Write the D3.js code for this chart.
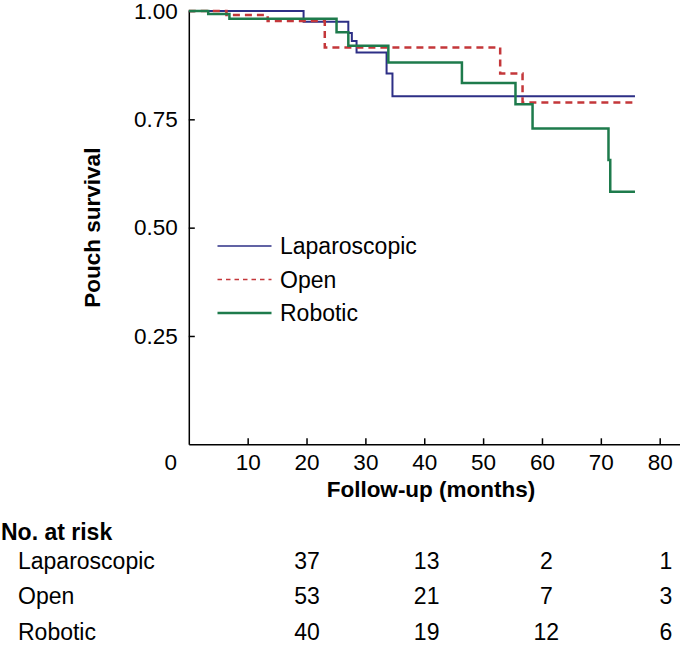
<!DOCTYPE html>
<html>
<head>
<meta charset="utf-8">
<script src="https://cdn.jsdelivr.net/npm/d3@7"></script>
<style>
  body { margin: 0; background: #fff; }
  svg { display: block; font-family: "Liberation Sans", Arial, Helvetica, sans-serif; }
</style>
</head>
<body>
<div id="chart"></div>
<script>
// Kaplan-Meier steps (months, survival)
const lapTime  = [0, 19.5, 27.1, 27.7, 28.5, 33.6, 34.6, 75.8];
const lapSurv  = [1, 0.975, 0.949, 0.931, 0.904, 0.856, 0.803, 0.803];
const openTime = [0, 6.4, 13.4, 23.1, 52.9, 56.7, 75.8];
const openSurv = [1, 0.991, 0.977, 0.916, 0.856, 0.789, 0.789];
const robTime  = [0, 3.3, 6.9, 25.1, 27.1, 33.9, 46.4, 55.5, 58.4, 71.3, 71.6, 75.8];
const robSurv  = [1, 0.993, 0.982, 0.951, 0.920, 0.881, 0.834, 0.785, 0.729, 0.656, 0.583, 0.583];

const groups = ['Laparoscopic', 'Open', 'Robotic'];
const xTicks = [10, 20, 30, 40, 50, 60, 70, 80];
const yTicks = [0.25, 0.5, 0.75, 1];

// numbers at risk
const riskTimes = [20, 40, 60, 80];
const lapRisk  = [37, 13, 2, 1];
const openRisk = [53, 21, 7, 3];
const robRisk  = [40, 19, 12, 6];

const width = 680;
const height = 650;

const svg = d3.select('#chart')
  .append('svg')
  .attr('width', width)
  .attr('height', height);

const x = d3.scaleLinear().domain([0, 83.5]).range([188.8, 680.3]);
const y = d3.scaleLinear().domain([0, 1]).range([444.3, 11]);

const series = [
  { name: groups[0], t: lapTime,  s: lapSurv,  color: '#2d2f86', w: 2,   dash: null,  legW: 1.6, legDash: null },
  { name: groups[1], t: openTime, s: openSurv, color: '#c4373a', w: 2.5, dash: '7,5', legW: 1.6, legDash: '4.5,4' },
  { name: groups[2], t: robTime,  s: robSurv,  color: '#1e7b4c', w: 2.5, dash: null,  legW: 2.4, legDash: null }
];

// axes
const xAxis = d3.axisBottom(x)
  .tickValues(xTicks)
  .tickSizeInner(-6)
  .tickSizeOuter(0)
  .tickPadding(10);

const yAxis = d3.axisLeft(y)
  .tickValues(yTicks)
  .tickFormat(d3.format('.2f'))
  .tickSizeInner(-6)
  .tickSizeOuter(0)
  .tickPadding(11);

const gx = svg.append('g')
  .attr('transform', `translate(0, ${y(0)})`)
  .call(xAxis);

const gy = svg.append('g')
  .attr('transform', `translate(${x(0)}, 0)`)
  .call(yAxis);

[gx, gy].forEach(g => {
  g.selectAll('path, line').attr('stroke', '#000').attr('stroke-width', 1.5);
  g.selectAll('text').attr('font-size', 22.5).attr('fill', '#000');
  g.attr('font-family', null);
});

// the shared corner "0"
svg.append('text')
  .attr('x', x(0) - 18)
  .attr('y', y(0) + 26)
  .attr('text-anchor', 'middle')
  .attr('font-size', 22.5)
  .text('0');

// axis titles
svg.append('text')
  .attr('x', 431)
  .attr('y', 497)
  .attr('text-anchor', 'middle')
  .attr('font-size', 22.5)
  .attr('font-weight', 'bold')
  .text('Follow-up (months)');

svg.append('text')
  .attr('transform', `translate(100, ${y(0.5)}) rotate(-90)`)
  .attr('text-anchor', 'middle')
  .attr('font-size', 22.5)
  .attr('font-weight', 'bold')
  .text('Pouch survival');

// step curves
const line = d3.line()
  .x(d => x(d[0]))
  .y(d => y(d[1]))
  .curve(d3.curveStepAfter);

svg.selectAll('.curve')
  .data(series)
  .enter()
  .append('path')
  .attr('class', 'curve')
  .attr('fill', 'none')
  .attr('stroke', d => d.color)
  .attr('stroke-width', d => d.w)
  .attr('stroke-dasharray', d => d.dash)
  .attr('d', d => line(d.t.map((t, i) => [t, d.s[i]])));

// legend
const legendY = [246, 279.5, 313];
const legend = svg.append('g').attr('class', 'legend');

series.forEach((d, i) => {
  const g = legend.append('g').attr('transform', `translate(0, ${legendY[i]})`);
  g.append('line')
    .attr('x1', 217.5)
    .attr('x2', 271.5)
    .attr('stroke', d.color)
    .attr('stroke-width', d.legW)
    .attr('stroke-dasharray', d.legDash);
  g.append('text')
    .attr('x', 280)
    .attr('dy', '0.35em')
    .attr('font-size', 23)
    .text(d.name);
});

// number at risk table
const col = d3.scaleLinear().domain([20, 80]).range([307, 666]);
const rowY = [568.5, 603.5, 640];
const riskRows = [lapRisk, openRisk, robRisk];

svg.append('text')
  .attr('x', 1)
  .attr('y', 540)
  .attr('font-size', 23)
  .attr('font-weight', 'bold')
  .text('No. at risk');

riskRows.forEach((row, i) => {
  svg.append('text')
    .attr('x', 18)
    .attr('y', rowY[i])
    .attr('font-size', 23)
    .text(groups[i]);

  svg.selectAll(`.risk${i}`)
    .data(row)
    .enter()
    .append('text')
    .attr('class', `risk${i}`)
    .attr('x', (v, j) => col(riskTimes[j]))
    .attr('y', rowY[i])
    .attr('text-anchor', 'middle')
    .attr('font-size', 23)
    .text(v => v);
});
</script>
</body>
</html>
